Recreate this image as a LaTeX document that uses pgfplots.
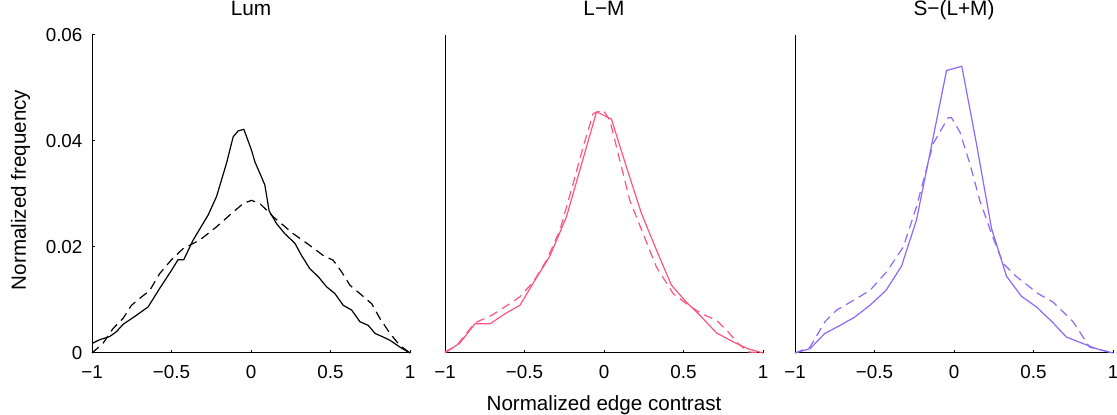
\documentclass[border=0pt]{standalone}
\usepackage{pgfplots}
\pgfplotsset{compat=1.18}
\usepackage{fontspec}
\setmainfont{Liberation Sans}
\definecolor{lmpink}{RGB}{255,85,125}
\definecolor{spurple}{RGB}{140,105,250}
\pgfplotsset{
  panel/.style={
    scale only axis, width=159pt, height=159pt,
    xmin=-1, xmax=1, ymin=0, ymax=0.06,
    axis x line=bottom, axis y line=left,
    axis line style={-, line width=0.5pt},
    tick align=inside, major tick length=1.6pt,
    tick style={line width=0.5pt, black},
    scaled y ticks=false,
    xtick={-1,-0.5,0,0.5,1},
    xticklabels={−1,−0.5,0,0.5,1},
    ticklabel style={font=\fontsize{9.4}{11}\selectfont, inner sep=2pt},
    xticklabel style={yshift=-4pt},
    yticklabel style={xshift=-2.6pt},
    title style={at={(axis description cs:0.5,1.025)}, anchor=base, font=\fontsize{10.4}{12}\selectfont},
    label style={font=\fontsize{10.3}{12}\selectfont},
    clip=false,
  },
  sol/.style={line width=0.6pt},
  das/.style={line width=0.6pt, dash pattern=on 4.5pt off 2.8pt},
}
\begin{document}
\begin{tikzpicture}
\useasboundingbox (0,0) rectangle (558.5pt,-207.5pt);
% Panel 1
\begin{axis}[panel, at={(46pt,-176.5pt)}, anchor=south west,
  title={Lum},
  ytick={0,0.02,0.04,0.06}, yticklabels={0,0.02,0.04,0.06},
  ylabel={Normalized frequency},
  ylabel style={at={(axis description cs:-0.225,0.513)}, anchor=center, rotate=0},
]
\addplot[sol, black] coordinates {(-1,0.0018)(-0.952,0.0025)(-0.889,0.0031)(-0.847,0.004)(-0.805,0.0054)(-0.721,0.0071)(-0.647,0.0087)(-0.574,0.0122)(-0.5,0.0156)(-0.459,0.0176)(-0.423,0.0176)(-0.364,0.0213)(-0.27,0.026)(-0.217,0.0295)(-0.154,0.0358)(-0.112,0.0408)(-0.081,0.0419)(-0.045,0.0422)(0.003,0.0383)(0.024,0.0361)(0.066,0.0332)(0.087,0.0317)(0.114,0.0268)(0.161,0.0244)(0.213,0.0225)(0.276,0.0207)(0.318,0.0184)(0.37,0.0159)(0.423,0.0144)(0.475,0.0125)(0.528,0.0112)(0.58,0.009)(0.633,0.0081)(0.685,0.0059)(0.738,0.0052)(0.78,0.0037)(0.832,0.003)(0.874,0.0024)(0.937,0.0011)(1,0)};
\addplot[das, black] coordinates {(-1,0)(-0.931,0.0018)(-0.868,0.0046)(-0.805,0.0065)(-0.752,0.009)(-0.7,0.0103)(-0.637,0.0118)(-0.574,0.015)(-0.5,0.0176)(-0.427,0.0197)(-0.322,0.0213)(-0.217,0.0238)(-0.112,0.0266)(-0.049,0.0282)(0.003,0.0288)(0.056,0.0282)(0.14,0.0257)(0.266,0.0225)(0.37,0.0203)(0.454,0.0184)(0.517,0.0175)(0.57,0.0153)(0.622,0.0128)(0.685,0.0112)(0.759,0.0093)(0.811,0.0065)(0.874,0.0037)(0.937,0.0014)(1,0)};
\end{axis}
% Panel 2
\begin{axis}[panel, at={(222.5pt,-176.5pt)}, anchor=south west,
  title={L−M}, ytick=\empty,
  xlabel={Normalized edge contrast},
  xlabel style={at={(axis description cs:0.5,-0.18)}, anchor=base},
]
\addplot[sol, lmpink] coordinates {(-1,0)(-0.906,0.0019)(-0.812,0.0055)(-0.717,0.0055)(-0.623,0.0074)(-0.529,0.009)(-0.435,0.0137)(-0.34,0.0183)(-0.236,0.0257)(-0.152,0.0345)(-0.047,0.0455)(0.047,0.0441)(0.141,0.0351)(0.236,0.0263)(0.33,0.0194)(0.424,0.0128)(0.518,0.0096)(0.613,0.0068)(0.707,0.0038)(0.812,0.0021)(0.906,0.0008)(1,0)};
\addplot[das, lmpink] coordinates {(-1,0.0002)(-0.927,0.0014)(-0.812,0.0057)(-0.707,0.0071)(-0.623,0.0087)(-0.529,0.0106)(-0.445,0.0134)(-0.361,0.0175)(-0.277,0.0232)(-0.194,0.032)(-0.131,0.0389)(-0.068,0.0452)(-0.005,0.0458)(0.037,0.0439)(0.099,0.0364)(0.162,0.0288)(0.246,0.0225)(0.33,0.0162)(0.435,0.0112)(0.518,0.0093)(0.613,0.0074)(0.707,0.0062)(0.78,0.004)(0.843,0.0018)(0.906,0.0002)(1,0)};
\end{axis}
% Panel 3
\begin{axis}[panel, at={(397.5pt,-176.5pt)}, anchor=south west,
  title={S−(L+M)}, ytick=\empty,
]
\addplot[sol, spurple] coordinates {(-1,0)(-0.906,0.0008)(-0.812,0.0037)(-0.717,0.0052)(-0.623,0.0068)(-0.529,0.009)(-0.428,0.0118)(-0.33,0.0164)(-0.236,0.0251)(-0.141,0.0392)(-0.047,0.0533)(0.049,0.0541)(0.141,0.0395)(0.236,0.0235)(0.33,0.0145)(0.424,0.0107)(0.518,0.0087)(0.613,0.006)(0.707,0.003)(0.801,0.0019)(0.895,0.0008)(1,0)};
\addplot[das, spurple] coordinates {(-1,0)(-0.906,0.0011)(-0.812,0.0059)(-0.738,0.0081)(-0.623,0.0101)(-0.529,0.0118)(-0.424,0.0153)(-0.319,0.02)(-0.236,0.0276)(-0.131,0.0395)(-0.037,0.0444)(-0.016,0.0444)(0.037,0.0417)(0.099,0.0358)(0.162,0.0288)(0.236,0.0225)(0.309,0.0169)(0.393,0.0144)(0.529,0.0112)(0.623,0.0096)(0.749,0.0059)(0.853,0.0011)(1,0)};
\end{axis}
\end{tikzpicture}
\end{document}
